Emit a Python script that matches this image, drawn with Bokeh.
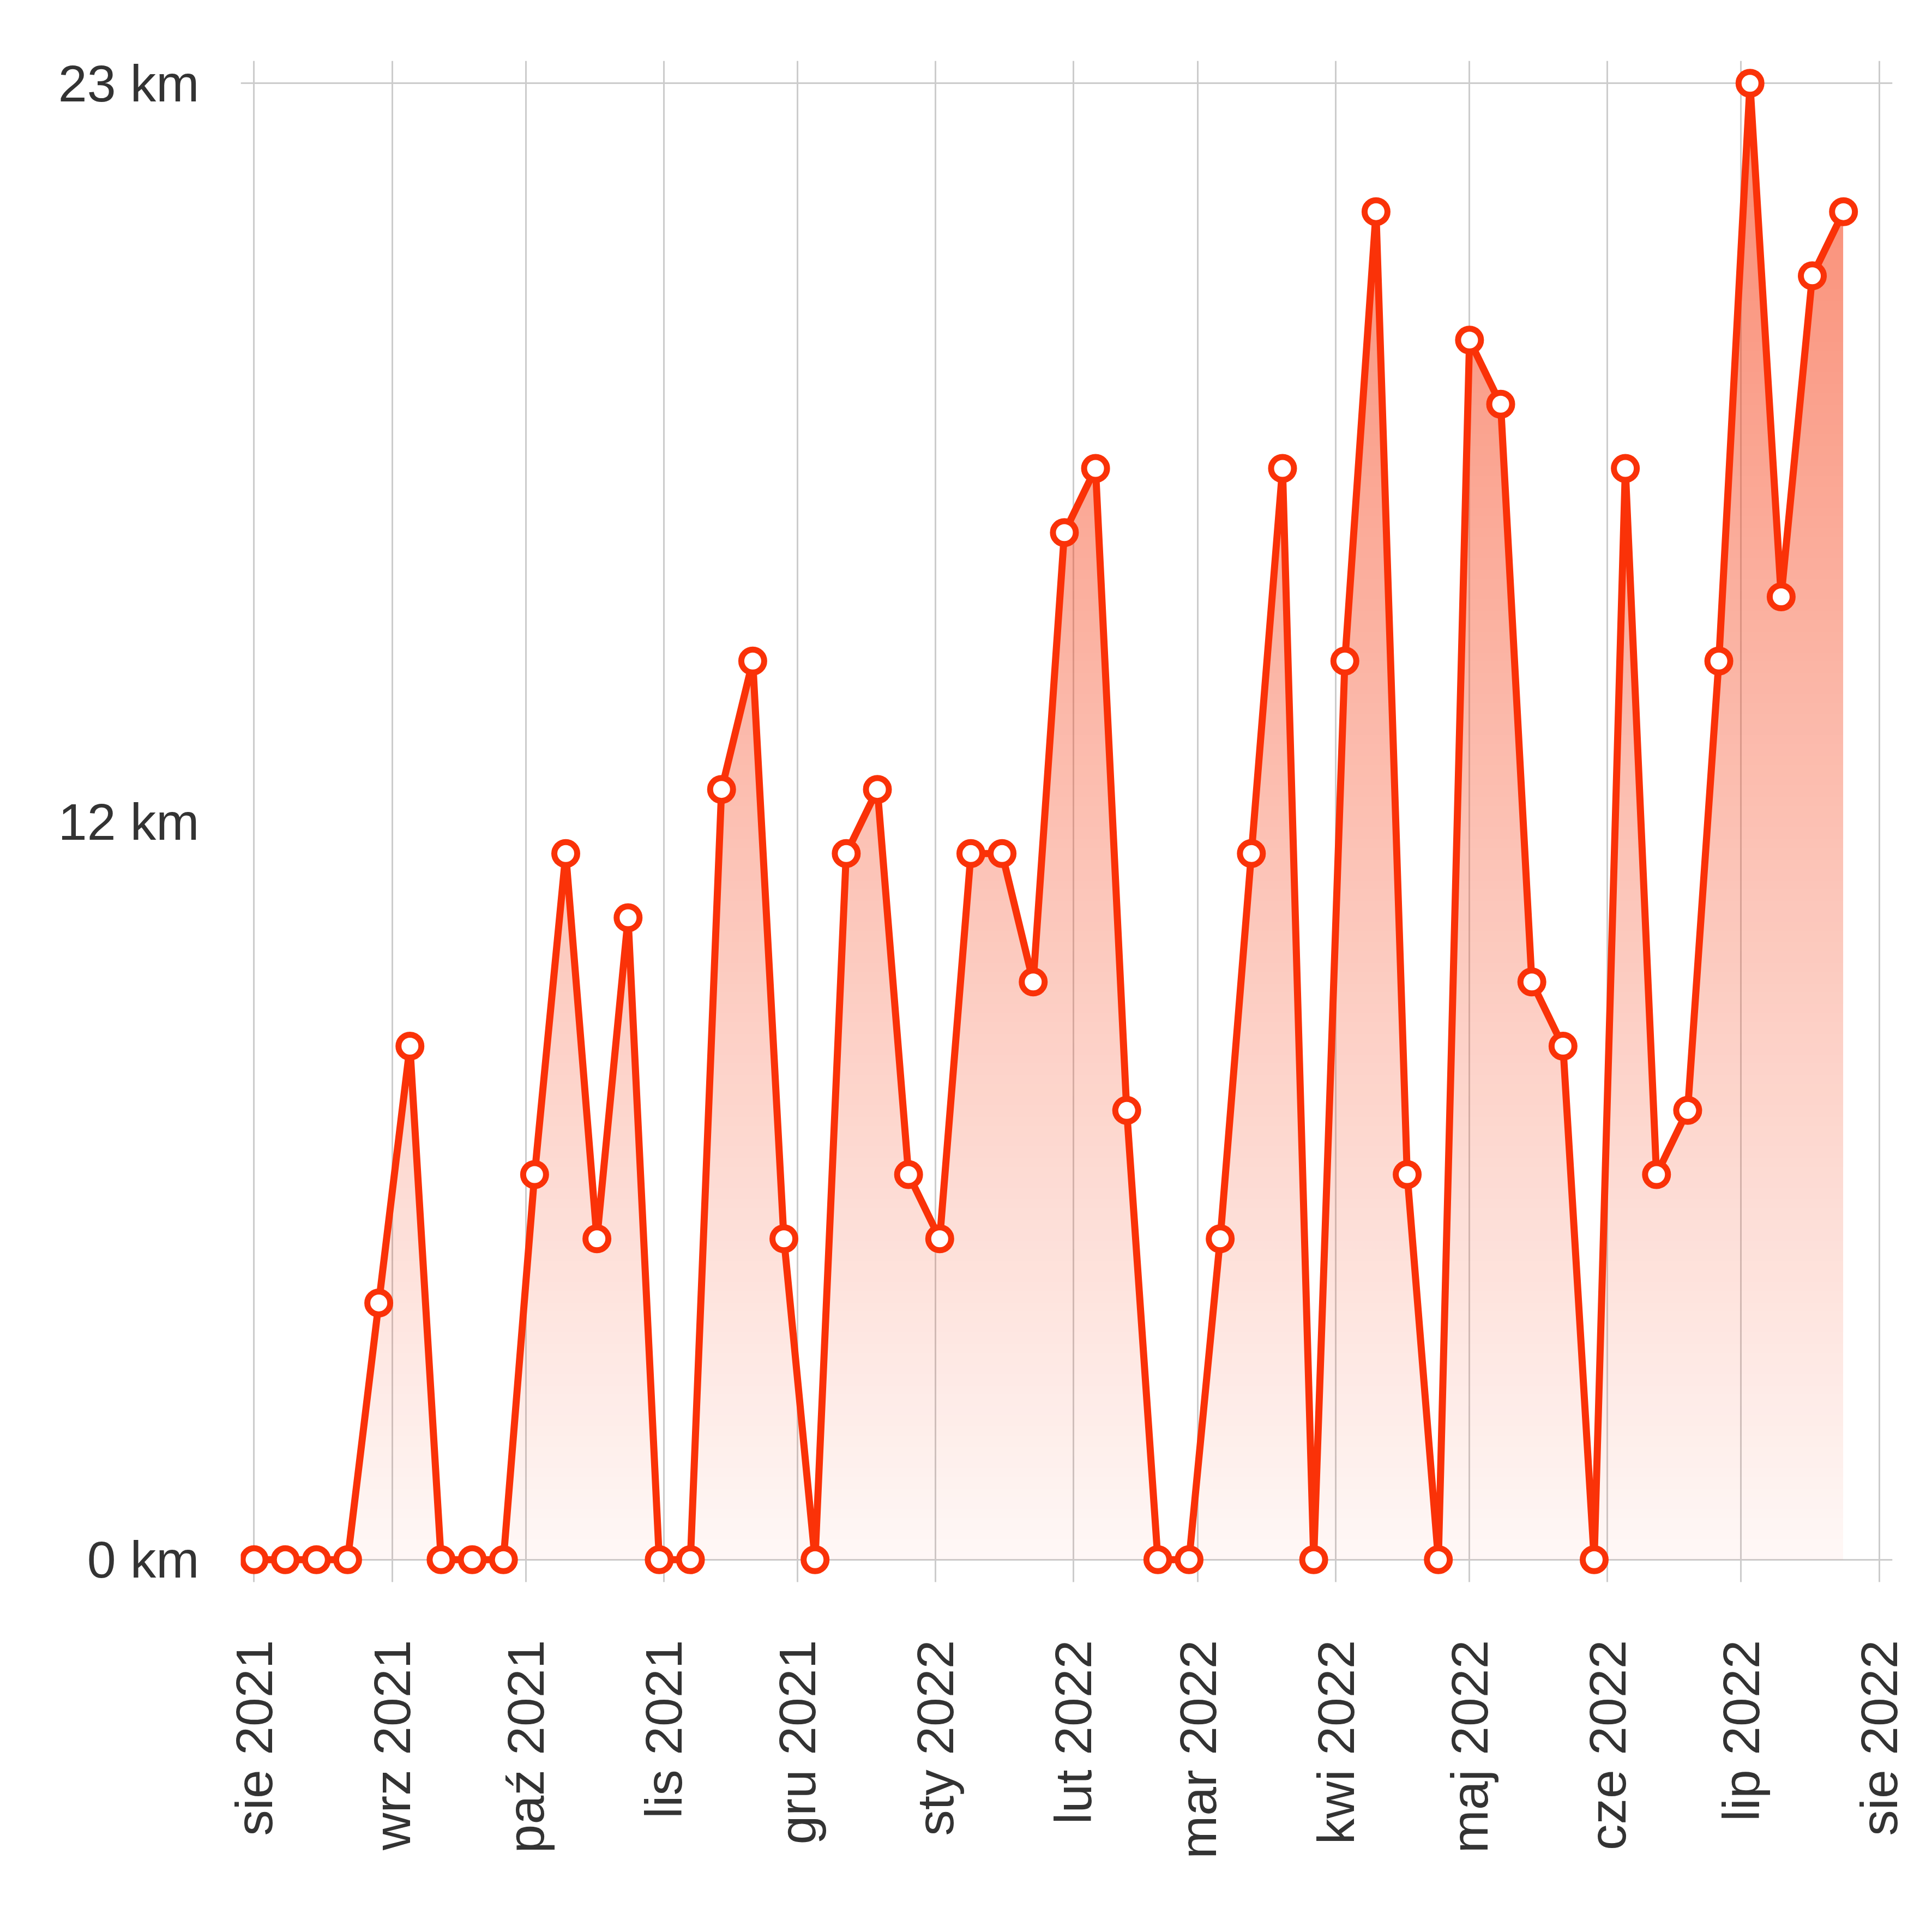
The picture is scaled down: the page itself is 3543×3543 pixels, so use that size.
import numpy as np
import pandas as pd
from bokeh.plotting import figure
from bokeh.models import FixedTicker, Range1d
from bokeh.embed import file_html
from bokeh.resources import INLINE

# weekly distances, km
km = [0, 0, 0, 0, 4, 8, 0, 0, 0, 6, 11, 5, 10, 0, 0, 12, 14, 5, 0, 11, 12, 6, 5, 11, 11, 9,
      16, 17, 7, 0, 0, 5, 11, 17, 0, 14, 21, 6, 0, 19, 18, 9, 8, 0, 17, 6, 7, 14, 23, 15, 20, 21]
weeks = pd.date_range("2021-08-01", periods=len(km), freq="7D")
month_starts = pd.date_range("2021-08-01", "2022-08-01", freq="MS")
month_labels = ["sie 2021", "wrz 2021", "paź 2021", "lis 2021", "gru 2021", "sty 2022", "lut 2022",
                "mar 2022", "kwi 2022", "maj 2022", "cze 2022", "lip 2022", "sie 2022"]
y_ticks = [0, 11.5, 23]
y_labels = ["0 km", "12 km", "23 km"]

RED = "#fa3208"
x0 = month_starts[0].value / 1e6
x1 = month_starts[-1].value / 1e6
ymax = 23
xpad = 3 * 86400000
ypad = 0.35

p = figure(width=3520, height=3520, x_axis_type="datetime", output_backend="svg",
           toolbar_location=None, x_range=Range1d(x0 - xpad, x1 + xpad),
           y_range=Range1d(-ypad, ymax + ypad),
           min_border_left=441, min_border_right=50, min_border_top=111, min_border_bottom=619)
p.outline_line_color = None

# gradient fill under the curve
wx = weeks.values.astype("datetime64[ms]").astype(np.int64).astype(float)
nx, ny = 1400, 500
gx = np.linspace(x0, x1, nx)
gy = np.linspace(0, ymax, ny)
curve = np.interp(gx, wx, km, right=np.nan)
alpha = 0.04 + 0.56 * gy / ymax
img = np.zeros((ny, nx), dtype=np.uint32)
view = img.view(dtype=np.uint8).reshape((ny, nx, 4))
inside = gy[:, None] <= curve[None, :]
view[..., 0] = 0xf5
view[..., 1] = 0x3a
view[..., 2] = 0x10
view[..., 3] = np.where(inside, (alpha[:, None] * 255), 0).astype(np.uint8)
p.image_rgba(image=[img], x=x0, y=0, dw=x1 - x0, dh=ymax)

p.line(weeks, km, line_color=RED, line_width=13)
p.scatter(weeks, km, size=42, fill_color="white", line_color=RED, line_width=11)

p.xgrid.ticker = FixedTicker(ticks=[d.value / 1e6 for d in month_starts])
p.ygrid.ticker = FixedTicker(ticks=[0, ymax])
for g in (p.xgrid, p.ygrid):
    g.grid_line_color = "#cccccc"
    g.grid_line_width = 3

p.xaxis.ticker = FixedTicker(ticks=[d.value / 1e6 for d in month_starts])
p.xaxis.major_label_overrides = {d.value / 1e6: lab for d, lab in zip(month_starts, month_labels)}
p.xaxis.major_label_orientation = np.pi / 2
p.yaxis.ticker = FixedTicker(ticks=y_ticks)
p.yaxis.major_label_overrides = dict(zip(y_ticks, y_labels))
for ax in (p.xaxis, p.yaxis):
    ax.axis_line_color = None
    ax.major_tick_line_color = None
    ax.minor_tick_line_color = None
    ax.major_label_text_font = "Liberation Sans"
    ax.major_label_text_font_size = "95px"
    ax.major_label_text_color = "#333333"
p.xaxis.major_label_standoff = 100
p.yaxis.major_label_standoff = 70

open("out.html", "w").write(file_html(p, INLINE))
